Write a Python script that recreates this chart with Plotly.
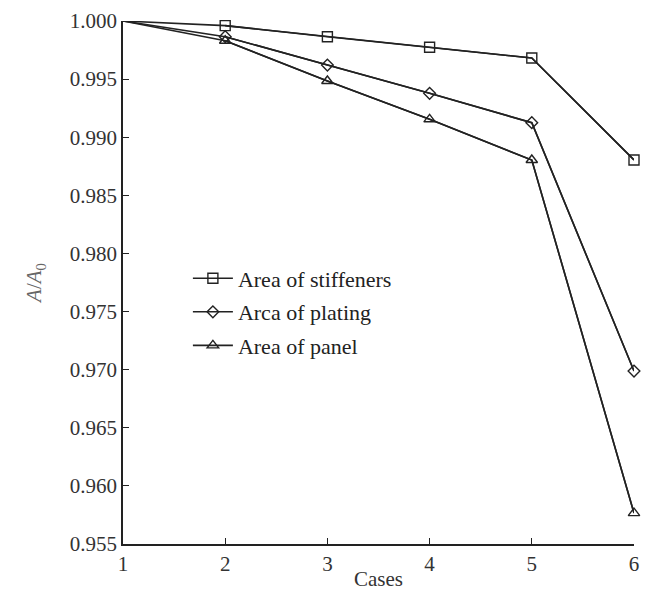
import plotly.graph_objects as go

cases = [1, 2, 3, 4, 5, 6]
stiffeners = [1.0000, 0.9996, 0.99865, 0.99774, 0.99682, 0.98804]
plating = [1.0000, 0.99865, 0.99621, 0.99378, 0.99125, 0.96988]
panel = [1.0000, 0.9983, 0.99484, 0.99154, 0.98804, 0.95766]
names = ["Area of stiffeners", "Arca of plating", "Area of panel"]
symbols = ["square-open", "diamond-open", "triangle-up-open"]
sizes = [10, 9, 10]

FONT = "Liberation Serif, Times New Roman, serif"
col = "#222222"

fig = go.Figure()
for i, (ys, nm, sym, sz) in enumerate(zip([stiffeners, plating, panel], names, symbols, sizes)):
    # full line (no marker at case 1)
    fig.add_trace(go.Scatter(
        x=cases, y=ys, mode="lines", line=dict(color=col, width=1.6),
        showlegend=False, cliponaxis=False, hoverinfo="skip",
    ))
    fig.add_trace(go.Scatter(
        x=cases[1:], y=ys[1:], name=nm, mode="lines+markers",
        line=dict(color=col, width=1.6),
        marker=dict(symbol=sym, size=sz, color=col, line=dict(width=1.4, color=col)),
        cliponaxis=False, legendgroup=f"g{i}",
    ))

fig.update_layout(
    width=647, height=591,
    margin=dict(l=123, r=13, t=21, b=47),
    paper_bgcolor="white", plot_bgcolor="white",
    font=dict(family=FONT, size=21, color="#333333"),
    showlegend=True,
    legend=dict(x=0.127, y=0.548, xanchor="left", yanchor="top",
                bgcolor="rgba(0,0,0,0)", font=dict(size=22, color="#222222"),
                tracegroupgap=2, itemwidth=40),
    xaxis=dict(range=[1, 6], tickmode="array", tickvals=cases, ticktext=[str(c) for c in cases],
               showgrid=False, zeroline=False, showline=True, linecolor=col, linewidth=1.6,
               ticks="inside", ticklen=6, tickcolor=col, tickwidth=1.4, automargin=False,
               tickfont=dict(size=21, color="#333333"),
               title=dict(text="Cases", standoff=0, font=dict(size=21, color="#333333"))),
    yaxis=dict(range=[0.955, 1.0], dtick=0.005, tick0=0.955, tickformat=".3f",
               showgrid=False, zeroline=False, showline=True, linecolor=col, linewidth=1.6,
               ticks="inside", ticklen=6, tickcolor=col, tickwidth=1.4, automargin=False,
               tickfont=dict(size=21, color="#333333"),
               title=dict(text="<i>A</i>/<i>A</i><sub>0</sub>", standoff=22,
                          font=dict(size=21, color="#666666"))),
)

fig.write_html("out.html")
